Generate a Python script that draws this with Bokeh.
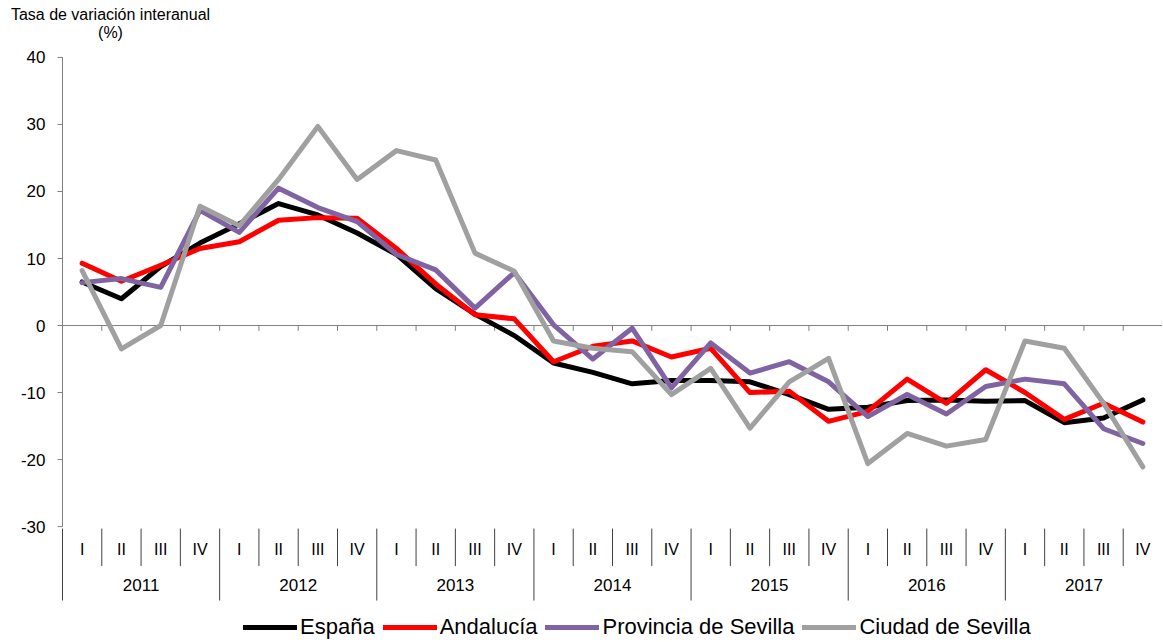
from bokeh.plotting import figure
from bokeh.models import Range1d, Legend, LegendItem, Label, ColumnDataSource
from bokeh.embed import file_html
from bokeh.resources import INLINE
from bokeh.core.properties import value

years = ["2011", "2012", "2013", "2014", "2015", "2016", "2017"]
quarters = ["I", "II", "III", "IV"]

espana = [6.5, 4.0, 8.8, 12.3,
          15.2, 18.2, 16.5, 13.8,
          10.6, 5.5, 1.7, -1.5,
          -5.6, -7.0, -8.7, -8.2,
          -8.2, -8.4, -10.3, -12.5,
          -12.2, -11.2, -11.1, -11.3,
          -11.2, -14.5, -13.8, -11.1]
andalucia = [9.3, 6.6, 9.0, 11.5,
             12.5, 15.7, 16.1, 16.0,
             11.5, 6.2, 1.6, 1.0,
             -5.4, -3.1, -2.3, -4.7,
             -3.4, -10.0, -9.8, -14.3,
             -12.8, -8.0, -11.6, -6.6,
             -10.0, -14.0, -11.6, -14.4]
provincia = [6.4, 7.0, 5.7, 17.2,
             13.9, 20.5, 17.6, 15.5,
             10.6, 8.3, 2.6, 7.9,
             0.1, -5.0, -0.4, -9.3,
             -2.6, -7.1, -5.4, -8.4,
             -13.6, -10.3, -13.2, -9.1,
             -8.0, -8.7, -15.4, -17.6]
ciudad = [8.2, -3.5, 0.0, 17.8,
          14.9, 21.8, 29.7, 21.8,
          26.1, 24.7, 10.8, 8.1,
          -2.3, -3.4, -3.9, -10.3,
          -6.4, -15.3, -8.4, -4.9,
          -20.6, -16.1, -18.0, -17.0,
          -2.3, -3.4, -11.6, -21.1]

series_names = ["España", "Andalucía", "Provincia de Sevilla", "Ciudad de Sevilla"]
series_values = [espana, andalucia, provincia, ciudad]
series_colors = ["#000000", "#FF0000", "#8064A2", "#A0A0A0"]

y_ticks = [-30, -20, -10, 0, 10, 20, 30, 40]
y_title = ["Tasa de variación interanual", "(%)"]

FONT = "Liberation Sans"
nq = len(quarters)
n = len(years) * nq
xs = [i + 0.5 for i in range(n)]

PLOT_W = 1100.0            # px width of the category area
UNIT = PLOT_W / n          # px per quarter
X_LEFT = -62.0 / UNIT      # room for tick labels / axis title
Y_TOP = 48.5               # top of frame (room for axis title)
Y_STRIP = -41.04           # bottom of category separators
Y_BOTTOM = -47.3           # bottom of frame (room for legend)

p = figure(frame_width=1162, frame_height=642,
           x_range=Range1d(X_LEFT, n), y_range=Range1d(Y_BOTTOM, Y_TOP),
           output_backend="svg", toolbar_location=None,
           min_border_left=0, min_border_right=0, min_border_top=0, min_border_bottom=0)
p.outline_line_color = None
p.xgrid.visible = False
p.ygrid.visible = False
p.xaxis.visible = False
p.yaxis.visible = False

# vertical axis line (40 down to -30) with ticks and labels
p.segment(x0=[0], y0=[y_ticks[-1]], x1=[0], y1=[y_ticks[0]], line_color="#808080", line_width=1)
p.segment(x0=[0] * len(y_ticks), y0=y_ticks, x1=[-5.0 / UNIT] * len(y_ticks), y1=y_ticks,
          line_color="#808080", line_width=1)
tsrc = ColumnDataSource(dict(x=[-17.0 / UNIT] * len(y_ticks), y=y_ticks, t=[str(t) for t in y_ticks]))
p.text(x="x", y="y", text="t", source=tsrc, text_font=value(FONT), text_font_size="17px",
       text_align="right", text_baseline="middle", text_color="#000000")

# zero line with boundary ticks
bx = list(range(1, n + 1))
p.segment(x0=[0], y0=[0], x1=[n], y1=[0], line_color="#808080", line_width=1)
p.segment(x0=bx, y0=[0] * n, x1=bx, y1=[-0.8] * n, line_color="#808080", line_width=1)

# category strip: separators
qsep = [y * nq + k for y in range(len(years)) for k in range(1, nq)]
p.segment(x0=qsep, y0=[-30.3] * len(qsep), x1=qsep, y1=[-35.9] * len(qsep),
          line_color="#404040", line_width=1)
ysep = [y * nq for y in range(len(years) + 1)]
p.segment(x0=ysep, y0=[-30.3] * len(ysep), x1=ysep, y1=[Y_STRIP] * len(ysep),
          line_color="#404040", line_width=1)

qsrc = ColumnDataSource(dict(x=xs, y=[-33.4] * n, t=[q for _ in years for q in quarters]))
p.text(x="x", y="y", text="t", source=qsrc, text_font=value(FONT), text_font_size="16px",
       text_align="center", text_baseline="middle", text_color="#000000")
ysrc = ColumnDataSource(dict(x=[y * nq + nq / 2 for y in range(len(years))],
                             y=[-38.7] * len(years), t=years))
p.text(x="x", y="y", text="t", source=ysrc, text_font=value(FONT), text_font_size="17px",
       text_align="center", text_baseline="middle", text_color="#000000")

items = []
for name, vals, col in zip(series_names, series_values, series_colors):
    r = p.line(xs, vals, line_color=col, line_width=5, line_join="round", line_cap="round")
    items.append(LegendItem(label=name, renderers=[r]))

legend = Legend(items=items, orientation="horizontal", location=(243, 2),
                label_text_font=FONT, label_text_font_size="22px", label_text_color="#000000",
                glyph_width=54, glyph_height=20, label_standoff=3, spacing=8,
                padding=4, margin=0, border_line_color=None, background_fill_alpha=0)
p.add_layout(legend)

for txt, yv in zip(y_title, [46.4, 43.7]):
    p.add_layout(Label(x=48.0 / UNIT, y=yv, text=txt, text_font=FONT, text_font_size="16px",
                       text_align="center", text_baseline="middle", text_color="#000000"))

open("out.html", "w").write(file_html(p, INLINE))
